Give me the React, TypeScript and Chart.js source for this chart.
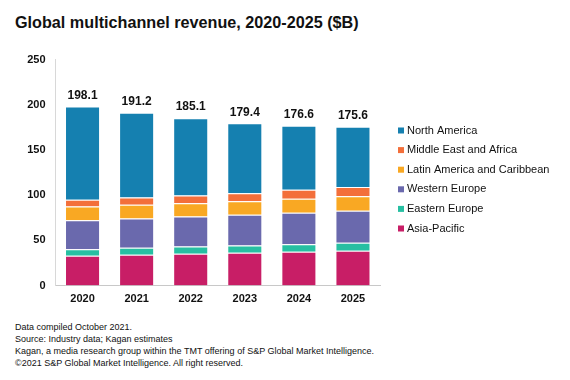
import React, { useEffect, useRef } from "react";
import { Chart, registerables } from "chart.js";
Chart.register(...registerables);

const years = ["2020", "2021", "2022", "2023", "2024", "2025"];
const asiaPacific = [32.8, 33.9, 35.0, 36.1, 37.3, 38.4];
const easternEurope = [7.4, 7.8, 8.1, 8.1, 8.4, 8.8];
const westernEurope = [32.1, 32.4, 33.2, 34.0, 34.7, 35.6];
const latinAmerica = [15.1, 15.1, 14.8, 15.1, 15.5, 15.9];
const middleEastAfrica = [7.4, 8.1, 8.5, 8.8, 9.9, 10.3];
const northAmerica = [103.3, 93.9, 85.5, 77.3, 70.8, 66.6];
const yTicks = [0, 50, 100, 150, 200, 250];

const FONT = "'Liberation Sans', Arial, sans-serif";

export default function App() {
  const ref = useRef<HTMLCanvasElement | null>(null);
  useEffect(() => {
    if (!ref.current) return;
    const series = [
      { label: "Asia-Pacific", data: asiaPacific, color: "#c81e66" },
      { label: "Eastern Europe", data: easternEurope, color: "#27bfa2" },
      { label: "Western Europe", data: westernEurope, color: "#6a69ad" },
      { label: "Latin America and Caribbean", data: latinAmerica, color: "#f9a823" },
      { label: "Middle East and Africa", data: middleEastAfrica, color: "#f36f3a" },
      { label: "North America", data: northAmerica, color: "#1580b0" },
    ];
    const totalsPlugin = {
      id: "totals",
      afterDatasetsDraw(chart: any) {
        const ctx = chart.ctx;
        const y = chart.scales.y;
        const x = chart.scales.x;
        ctx.save();
        ctx.font = `bold 12px ${FONT}`;
        ctx.fillStyle = "#111";
        ctx.textAlign = "center";
        ctx.textBaseline = "bottom";
        years.forEach((_, i) => {
          const total = chart.data.datasets.reduce((s: number, d: any) => s + d.data[i], 0);
          ctx.fillText(total.toFixed(1), x.getPixelForValue(i), y.getPixelForValue(total) - 5);
        });
        ctx.restore();
      },
    };
    const legendPlugin = {
      id: "customLegend",
      afterDraw(chart: any) {
        const ctx = chart.ctx;
        ctx.save();
        ctx.font = `11px ${FONT}`;
        ctx.textBaseline = "middle";
        ctx.textAlign = "left";
        const ds = [...chart.data.datasets].reverse();
        ds.forEach((d: any, i: number) => {
          const cy = 90.5 + i * 19.6;
          ctx.fillStyle = d.backgroundColor;
          ctx.fillRect(398, cy - 3, 6, 6);
          ctx.fillStyle = "#111";
          ctx.fillText(d.label, 407, cy);
        });
        ctx.restore();
      },
    };
    const chart = new Chart(ref.current, {
      type: "bar",
      data: {
        labels: years,
        datasets: series.map((s) => ({
          label: s.label,
          data: s.data,
          backgroundColor: s.color,
          borderColor: "#ffffff",
          borderWidth: 1,
          barPercentage: 0.8,
          categoryPercentage: 0.81,
        })),
      },
      options: {
        animation: false,
        responsive: false,
        maintainAspectRatio: false,
        layout: { padding: { top: 19.5, right: 190, left: 0, bottom: 0 } },
        plugins: { legend: { display: false }, tooltip: { enabled: false } },
        scales: {
          x: {
            stacked: true,
            grid: { display: false, drawTicks: false },
            border: { display: true, color: "#c8c8c8" },
            ticks: { color: "#111", font: { family: FONT, size: 11, weight: "bold" }, padding: 7 },
            afterFit: (s: any) => { s.height = 24.5; },
          },
          y: {
            stacked: true,
            min: 0,
            max: 250,
            afterBuildTicks: (s: any) => { s.ticks = yTicks.map((v) => ({ value: v })); },
            grid: { display: false, drawTicks: false },
            border: { display: true, color: "#d8d8d8" },
            ticks: { color: "#111", font: { family: FONT, size: 11, weight: "bold" }, padding: 10 },
            afterFit: (s: any) => { s.width = 55.5; },
          },
        },
      },
      plugins: [totalsPlugin, legendPlugin],
    });
    return () => chart.destroy();
  }, []);

  return (
    <div style={{ position: "fixed", left: 0, top: 0, width: 570, height: 380, background: "#fff", fontFamily: FONT, color: "#111" }}>
      <div style={{ position: "absolute", left: 15, top: 13, fontSize: 16.2, fontWeight: "bold", whiteSpace: "nowrap" }}>
        Global multichannel revenue, 2020-2025 ($B)
      </div>
      <canvas ref={ref} width={570} height={270} style={{ position: "absolute", left: 0, top: 40, width: 570, height: 270 }} />
      <div style={{ position: "absolute", left: 15, top: 321, fontSize: 9, lineHeight: "12px", whiteSpace: "nowrap" }}>
        <div>Data compiled October 2021.</div>
        <div>Source: Industry data; Kagan estimates</div>
        <div>Kagan, a media research group within the TMT offering of S&amp;P Global Market Intelligence.</div>
        <div>©2021 S&amp;P Global Market Intelligence. All right reserved.</div>
      </div>
    </div>
  );
}
